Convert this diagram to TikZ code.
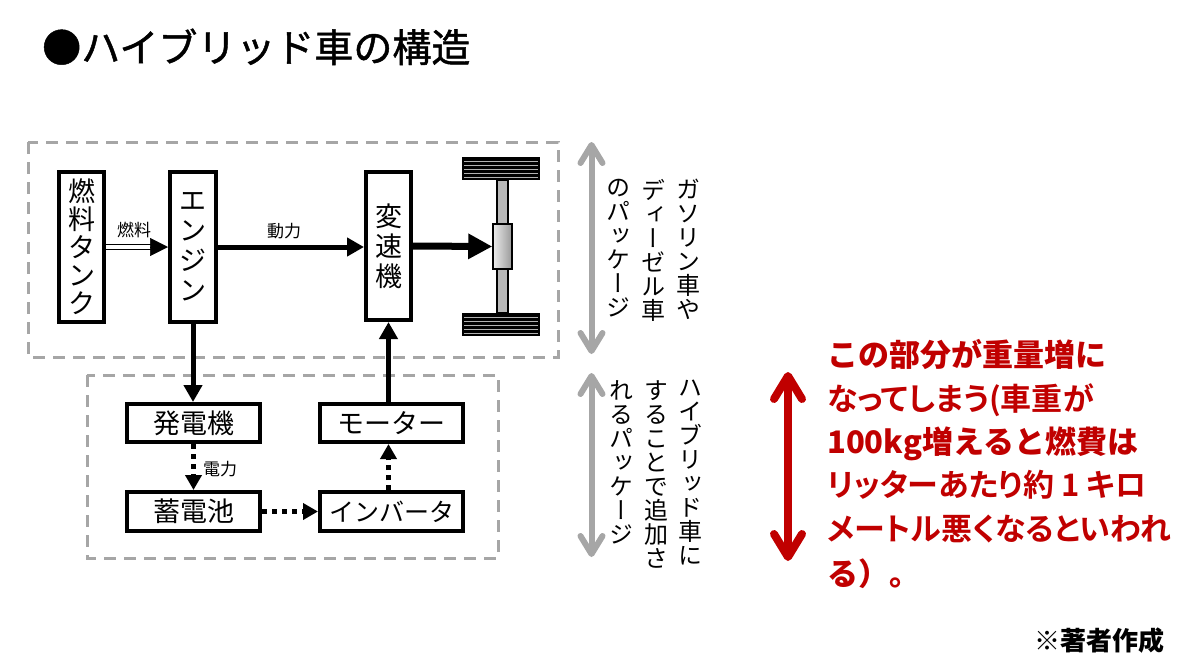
\documentclass[tikz,border=0pt]{standalone}
\usepackage{fontspec}
\setmainfont{Noto Sans CJK JP}
\newfontfamily\vjp[RawFeature=+vert]{Noto Sans CJK JP}
\newfontfamily\titlejp[FakeBold=1.2]{Noto Sans CJK JP}
\newfontfamily\redjp[RawFeature=+palt]{Noto Sans CJK JP Bold}
\usetikzlibrary{arrows.meta,calc}
\definecolor{dashgray}{RGB}{166,166,166}
\definecolor{redtxt}{RGB}{192,0,0}
\begin{document}
\begin{tikzpicture}[x=1pt,y=-1pt,
  box/.style={draw, line width=4pt, inner sep=0pt, align=center, font=\fontsize{27}{30}\selectfont},
  vbox/.style={box, minimum width=45pt, minimum height=150pt},
  hbox/.style={box, minimum width=133pt, minimum height=38pt},
  powerarrow/.style={line width=5pt, -{Triangle[length=17pt,width=18pt]}},
  driveline/.style={line width=7pt, -{Triangle[length=24pt,width=24pt]}},
  elec/.style={line width=5pt, dash pattern=on 5pt off 5pt, -{Triangle[length=15pt,width=16pt]}},
  lbl/.style={inner sep=0pt, font=\fontsize{17}{17}\selectfont},
  pkgbox/.style={draw=dashgray, line width=3pt, dash pattern=on 12pt off 8pt},
  pkgarrow/.style={line width=6pt, draw=dashgray, {Straight Barb[length=18pt,width=22pt,round]}-{Straight Barb[length=18pt,width=22pt,round]}},
  redarrow/.style={line width=8pt, draw=redtxt, {Straight Barb[length=23pt,width=28pt,round]}-{Straight Barb[length=23pt,width=28pt,round]}},
  vtext/.style={anchor=north, inner sep=0pt, align=center, font=\vjp\fontsize{24}{24}\selectfont},
  redline/.style={anchor=base west, inner sep=0pt, text=redtxt, font=\bfseries\fontsize{31}{31}\selectfont},
  redlinep/.style={redline, font=\redjp\fontsize{31}{31}\selectfont}
]
\useasboundingbox (0,0) rectangle (1199,667);

% title
\node[anchor=base west, inner sep=0pt, font=\titlejp\fontsize{39}{39}\selectfont] (title) at (42,62) {●ハイブリッド車の構造};

% package boxes
\draw[pkgbox] (28,142) rectangle (558,357);
\draw[pkgbox] (87,375) rectangle (498,558);

% wheels and axle
\fill (462,157) rectangle (540,180);
\fill (462,313) rectangle (540,336);
\foreach \yy in {161,165,169,173,177} \draw[gray!60, line width=0.9pt] (464,\yy) -- (538,\yy);
\foreach \yy in {317,321,325,329,333} \draw[gray!60, line width=0.9pt] (464,\yy) -- (538,\yy);
\draw[fill=gray!55, line width=1.2pt] (497,180) rectangle (508,313);
\node[draw, line width=1.5pt, minimum width=19pt, minimum height=45pt, inner sep=0pt,
      left color=gray!15, right color=gray!80] (diff) at (502.5,246.5) {};

% blocks
\node[vbox, font=\fontsize{27}{28}\selectfont] (tank) at (81.5,247) {燃\\料\\タ\\ン\\ク};
\node[vbox, minimum width=46pt] (engine) at (193,247) {エ\\ン\\ジ\\ン};
\node[vbox, minimum height=148pt] (henso) at (388.5,246) {変\\速\\機};
\node[hbox] (gen) at (193.5,423) {発電機};
\node[hbox, minimum width=143pt] (motor) at (391.5,423) {モーター};
\node[hbox, minimum height=39pt] (batt) at (193.5,511.5) {蓄電池};
\node[hbox, minimum width=143pt, minimum height=39pt, font=\fontsize{25}{25}\selectfont] (inv) at (391.5,511.5) {インバータ};

% fuel
\draw[line width=1.3pt, double, double distance=3.6pt] (tank.east) -- ([xshift=-15pt]engine.west);
\draw[line width=0.5pt, -{Triangle[length=18pt,width=18pt]}] ([xshift=-18pt]engine.west) -- (engine.west);
\node[lbl] (lfuel) at (134,230) {燃料};

% power
\draw[powerarrow] (engine.east) -- (engine.east -| henso.west);
\node[lbl] (lpow) at (284,231) {動力};
\draw[driveline] (henso.east) -- (diff.west);
\draw[powerarrow] (engine.south) -- (engine.south |- gen.north);
\draw[powerarrow] (motor.north -| henso.south) -- (henso.south);

% electric
\draw[elec] (gen.south) -- (batt.north);
\node[lbl] (lelec) at (220,469) {電力};
\draw[elec] (batt.east) -- (inv.west);
\draw[elec] (inv.north -| henso.south) -- (motor.south -| henso.south);

% package arrows
\coordinate (g1t) at (591.5,142);
\coordinate (g1b) at (591.5,354);
\coordinate (g2t) at (591.5,373);
\coordinate (g2b) at (591.5,557);
\draw[pkgarrow] (g1t) -- (g1b);
\draw[pkgarrow] (g2t) -- (g2b);

% vertical texts
\node[vtext] (c1) at (688,179) {ガ\\ソ\\リ\\ン\\車\\や};
\node[vtext] (c2) at (653,179) {デ\\ィ\\ー\\ゼ\\ル\\車};
\node[vtext] (c3) at (618,179) {の\\パ\\ッ\\ケ\\ー\\ジ};
\node[vtext] (c4) at (690,380) {ハ\\イ\\ブ\\リ\\ッ\\ド\\車\\に};
\node[vtext] (c5) at (656,380) {す\\る\\こ\\と\\で\\追\\加\\さ};
\node[vtext] (c6) at (621,380) {れ\\る\\パ\\ッ\\ケ\\ー\\ジ};

% red
\coordinate (rt) at (788,372);
\coordinate (rb) at (788,561);
\draw[redarrow] (rt) -- (rb);
\node[redline] (r1) at (827,366) {この部分が重量増に};
\node[redlinep] (r2) at (827,410) {なってしまう(車重が};
\node[redline] (r3) at (827,453) {100kg増えると燃費は};
\node[redlinep] (r4) at (827,496) {リッターあたり約 1 キロ};
\node[redlinep] (r5) at (827,540) {メートル悪くなるといわれ};
\node[redline] (r6) at (827,585) {る）。};

% credit
\node[anchor=base east, inner sep=0pt, font=\bfseries\fontsize{26}{26}\selectfont] (credit) at (1165,650) {※著者作成};
\end{tikzpicture}
\end{document}
